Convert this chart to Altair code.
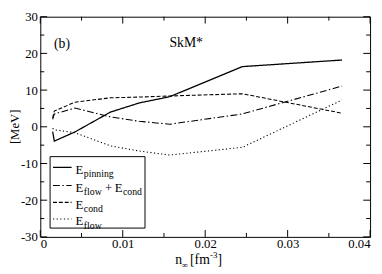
import altair as alt
import pandas as pd

# ---- data ----
n_inf = [0.0015, 0.0017, 0.0042, 0.0085, 0.0120, 0.0157, 0.0245, 0.0366]
e_pinning = [-1.3, -3.9, -1.4, 4.0, 6.5, 8.2, 16.4, 18.2]
e_flow_cond = [2.0, 3.5, 5.1, 2.7, 1.5, 0.7, 3.5, 11.1]
e_cond = [2.4, 4.3, 6.7, 7.9, 8.1, 8.4, 9.0, 3.7]
e_flow = [-0.4, -0.8, -1.6, -5.2, -6.6, -7.7, -5.6, 7.3]

x_major = [0, 0.01, 0.02, 0.03, 0.04]
x_minor = [0.005, 0.015, 0.025, 0.035]
y_major = [-30, -20, -10, 0, 10, 20, 30]
y_minor = [-25, -15, -5, 5, 15, 25]

W, H = 337, 225
FONT = "Liberation Serif, Times New Roman, serif"

xs = alt.Scale(domain=[0, 0.04], nice=False, zero=False)
ys = alt.Scale(domain=[-30, 30], nice=False, zero=False)

series = [
    ("pinning", e_pinning, [1, 0], 1.3),
    ("flowcond", e_flow_cond, [7, 2.5, 1.5, 2.5], 1.1),
    ("cond", e_cond, [4, 2], 1.1),
    ("flow", e_flow, [1.2, 2.5], 1.1),
]

rows = []
for name, vals, _, _ in series:
    for xv, yv in zip(n_inf, vals):
        rows.append({"n": xv, "E": yv, "s": name})
df = pd.DataFrame(rows)

xaxis = alt.Axis(values=x_major, ticks=False, grid=False, domain=False,
                 labelFont=FONT, labelFontSize=13, labelColor="black",
                 labelPadding=1,
                 labelExpr="datum.value == 0 ? '0' : format(datum.value, '.2f')",
                 title=None)
yaxis = alt.Axis(values=y_major, ticks=False, grid=False, domain=False,
                 labelFont=FONT, labelFontSize=13, labelColor="black",
                 labelPadding=3,
                 labelExpr="datum.value < 0 ? '-' + toString(-datum.value) : toString(datum.value)",
                 title=None)

layers = []
for name, vals, dash, sw in series:
    c = alt.Chart(df).transform_filter(alt.datum.s == name).mark_line(
        color="black", strokeDash=dash, strokeWidth=sw, clip=True
    ).encode(
        x=alt.X("n:Q", scale=xs, axis=xaxis),
        y=alt.Y("E:Q", scale=ys, axis=yaxis),
    )
    layers.append(c)

# inside ticks on all four sides
def xticks(vals, L):
    d = pd.DataFrame({"n": vals})
    top = alt.Chart(d).mark_rule(color="black", strokeWidth=1).encode(
        x=alt.X("n:Q", scale=xs, axis=xaxis), y=alt.value(0), y2=alt.value(L))
    bot = alt.Chart(d).mark_rule(color="black", strokeWidth=1).encode(
        x=alt.X("n:Q", scale=xs, axis=xaxis), y=alt.value(H), y2=alt.value(H - L))
    return [top, bot]

def yticks(vals, L):
    d = pd.DataFrame({"E": vals})
    left = alt.Chart(d).mark_rule(color="black", strokeWidth=1).encode(
        y=alt.Y("E:Q", scale=ys, axis=yaxis), x=alt.value(0), x2=alt.value(L))
    right = alt.Chart(d).mark_rule(color="black", strokeWidth=1).encode(
        y=alt.Y("E:Q", scale=ys, axis=yaxis), x=alt.value(W), x2=alt.value(W - L))
    return [left, right]

layers += xticks(x_major, 7) + xticks(x_minor, 4) + yticks(y_major, 7) + yticks(y_minor, 4)

one = pd.DataFrame({"a": [0]})

def txt(s, x, y, size=14, align="left", baseline="alphabetic", angle=0):
    return alt.Chart(one).mark_text(
        text=s, font=FONT, fontSize=size, align=align, baseline=baseline,
        angle=angle, color="black"
    ).encode(x=alt.value(x), y=alt.value(y))

# y-axis title
layers.append(txt("[MeV]", -26, 112.5, 13, align="center", baseline="middle", angle=270))

# annotations
layers += [txt("(b)", 14, 31.5), txt("SkM*", 132, 30.5)]

# legend
layers.append(alt.Chart(one).mark_rect(fill="white", stroke="black", strokeWidth=1).encode(
    x=alt.value(10), x2=alt.value(107), y=alt.value(143), y2=alt.value(216)))
row_y = [154.0, 172.4, 189.7, 206.7]
for (name, _, dash, sw), ry in zip(series, row_y):
    layers.append(alt.Chart(one).mark_rule(color="black", strokeDash=dash, strokeWidth=sw).encode(
        x=alt.value(13), x2=alt.value(32), y=alt.value(ry)))
layers += [
    txt("E", 36, row_y[0] + 6.5, 13), txt("pinning", 44.5, row_y[0] + 10, 10),
    txt("E", 36, row_y[1] + 6.5, 13), txt("flow", 44.5, row_y[1] + 10, 10),
    txt("+", 66, row_y[1] + 6.5, 13), txt("E", 76, row_y[1] + 6.5, 13),
    txt("cond", 84.5, row_y[1] + 10, 10),
    txt("E", 36, row_y[2] + 6.5, 13), txt("cond", 44.5, row_y[2] + 10, 10),
    txt("E", 36, row_y[3] + 6.5, 13), txt("flow", 44.5, row_y[3] + 10, 10),
]

# x-axis title: n_inf [fm^-3]
layers += [
    txt("n", 138, 253, 14), txt("\u221e", 144.5, 256.5, 9),
    txt("[fm", 153, 253, 14), txt("-3", 173.5, 246.5, 9), txt("]", 181, 253, 14),
]

chart = alt.layer(*layers).properties(
    width=W, height=H,
    autosize=alt.AutoSizeParams(type="none"),
    padding={"left": 33, "top": 6, "right": 4, "bottom": 34},
).configure_view(stroke="black", strokeWidth=1)

chart.save("out.html", embed_options={"renderer": "svg", "actions": False})
